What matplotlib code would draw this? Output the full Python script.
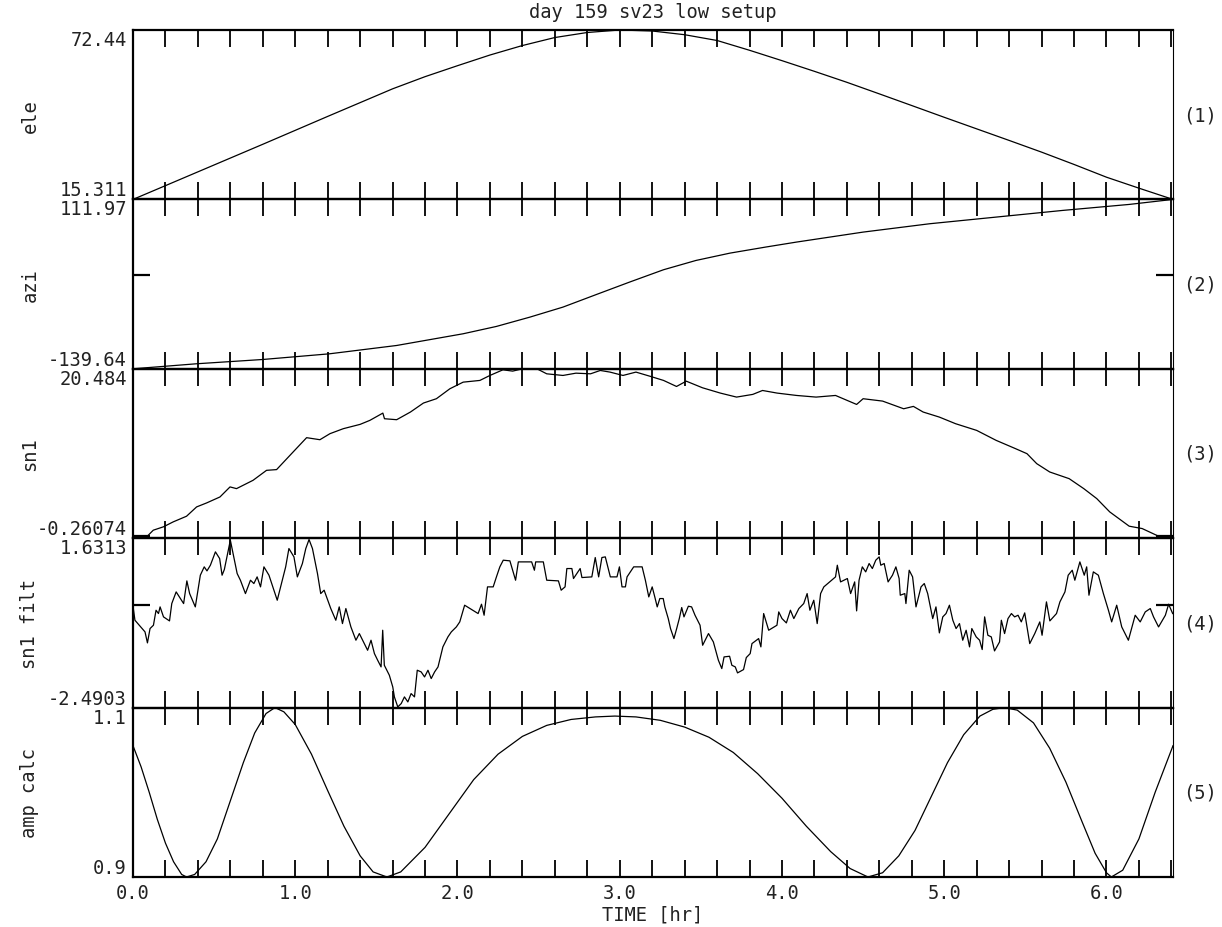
import matplotlib
matplotlib.use('Agg')
import matplotlib.pyplot as plt
from matplotlib.ticker import MultipleLocator, FormatStrFormatter

plt.rcParams['font.family'] = ['DejaVu Sans Mono']
plt.rcParams['font.size'] = 13.5
TXT = '#222222'

T_END = 6.41

# elevation
ele_t = [0.0, 0.2, 0.4, 0.6, 0.8, 1.0, 1.2, 1.4, 1.6, 1.8, 2.0, 2.2, 2.4, 2.6, 2.8, 3.0,
         3.2, 3.4, 3.6, 3.8, 4.0, 4.2, 4.4, 4.6, 4.8, 5.0, 5.2, 5.4, 5.6, 5.8, 6.0, 6.2, 6.41]
ele_v = [15.31, 19.95, 24.6, 29.25, 33.9, 38.6, 43.3, 47.95, 52.6, 56.7, 60.4, 64.0, 67.2, 69.9,
         71.6, 72.44, 72.1, 70.85, 68.9, 65.6, 62.1, 58.5, 54.8, 50.9, 46.96, 43.0, 39.1, 35.2,
         31.25, 27.1, 22.8, 19.1, 15.31]

# azimuth
azi_t = [0.0, 0.39, 0.8, 1.21, 1.625, 2.035, 2.24, 2.446, 2.65, 2.857, 3.06, 3.27, 3.47, 3.68,
         3.9, 4.09, 4.5, 4.91, 5.32, 5.73, 6.14, 6.41]
azi_v = [-139.64, -132.2, -125.8, -117.4, -105.0, -87.6, -76.7, -62.9, -48.0, -29.2, -10.9, 7.5,
         21.3, 32.2, 41.2, 48.6, 63.4, 75.8, 85.7, 95.6, 104.5, 111.97]

# sn1
sn1_t = [0.0, 0.084, 0.125, 0.187, 0.248, 0.33, 0.392, 0.454, 0.536, 0.598, 0.638, 0.74, 0.823,
         0.885, 0.987, 1.07, 1.152, 1.214, 1.296, 1.4, 1.46, 1.54, 1.55, 1.625, 1.71, 1.79, 1.87,
         1.953, 2.035, 2.138, 2.2, 2.28, 2.34, 2.4, 2.49, 2.55, 2.65, 2.73, 2.82, 2.88, 2.94, 3.02,
         3.1, 3.19, 3.27, 3.35, 3.41, 3.51, 3.62, 3.72, 3.82, 3.88, 3.97, 4.09, 4.21, 4.33, 4.46,
         4.5, 4.62, 4.75, 4.81, 4.87, 4.97, 5.07, 5.2, 5.32, 5.44, 5.51, 5.57, 5.65, 5.77, 5.86,
         5.94, 6.02, 6.14, 6.22, 6.33, 6.41]
sn1_v = [-0.1, -0.1, 0.72, 1.13, 1.74, 2.43, 3.57, 4.06, 4.79, 6.02, 5.81, 6.83, 8.05, 8.14, 10.3,
         12.05, 11.8, 12.54, 13.15, 13.68, 14.17, 15.06, 14.37, 14.25, 15.19, 16.29, 16.82, 18.04,
         18.85, 19.06, 19.67, 20.36, 20.2, 20.48, 20.48, 19.87, 19.67, 19.95, 19.87, 20.28, 20.08,
         19.67, 20.08, 19.55, 19.06, 18.32, 18.97, 18.16, 17.51, 17.02, 17.35, 17.83, 17.51, 17.22,
         17.02, 17.22, 16.12, 16.82, 16.53, 15.59, 15.88, 15.19, 14.57, 13.76, 12.94, 11.72, 10.7,
         10.09, 8.87, 7.85, 7.03, 5.81, 4.59, 2.96, 1.21, 0.92, -0.1, -0.02]

# sn1 filt
filt_t = [0.002, 0.012, 0.074, 0.089, 0.105, 0.126, 0.142, 0.157, 0.167, 0.188, 0.225, 0.239,
          0.266, 0.312, 0.332, 0.349, 0.384, 0.415, 0.439, 0.456, 0.477, 0.508, 0.534, 0.549,
          0.563, 0.600, 0.621, 0.642, 0.662, 0.693, 0.724, 0.745, 0.765, 0.786, 0.807, 0.838,
          0.889, 0.941, 0.961, 0.992, 1.013, 1.044, 1.065, 1.085, 1.106, 1.137, 1.157, 1.178,
          1.219, 1.250, 1.271, 1.291, 1.312, 1.343, 1.374, 1.395, 1.426, 1.446, 1.467, 1.488,
          1.508, 1.529, 1.539, 1.549, 1.580, 1.601, 1.611, 1.632, 1.653, 1.673, 1.694, 1.714,
          1.735, 1.752, 1.776, 1.797, 1.818, 1.838, 1.859, 1.880, 1.910, 1.941, 1.962, 1.993,
          2.014, 2.044, 2.127, 2.148, 2.164, 2.185, 2.220, 2.240, 2.261, 2.282, 2.323, 2.337,
          2.358, 2.375, 2.457, 2.474, 2.482, 2.529, 2.550, 2.622, 2.639, 2.663, 2.674, 2.705,
          2.715, 2.756, 2.767, 2.828, 2.849, 2.870, 2.890, 2.911, 2.942, 2.983, 2.998, 3.014,
          3.035, 3.045, 3.086, 3.138, 3.158, 3.179, 3.200, 3.216, 3.231, 3.247, 3.268, 3.278,
          3.299, 3.313, 3.334, 3.351, 3.367, 3.382, 3.396, 3.423, 3.443, 3.464, 3.495, 3.511,
          3.547, 3.577, 3.608, 3.629, 3.643, 3.677, 3.691, 3.712, 3.726, 3.763, 3.780, 3.804,
          3.815, 3.856, 3.870, 3.887, 3.918, 3.969, 3.980, 4.000, 4.027, 4.052, 4.073, 4.104,
          4.134, 4.155, 4.172, 4.196, 4.217, 4.238, 4.258, 4.330, 4.341, 4.361, 4.403, 4.423,
          4.448, 4.460, 4.475, 4.495, 4.516, 4.537, 4.557, 4.578, 4.599, 4.609, 4.630, 4.654,
          4.681, 4.702, 4.722, 4.729, 4.757, 4.764, 4.784, 4.805, 4.826, 4.857, 4.877, 4.898,
          4.929, 4.949, 4.970, 4.991, 5.011, 5.032, 5.053, 5.073, 5.094, 5.114, 5.135, 5.156,
          5.170, 5.197, 5.218, 5.234, 5.249, 5.269, 5.290, 5.310, 5.341, 5.352, 5.372, 5.393,
          5.414, 5.434, 5.455, 5.475, 5.496, 5.527, 5.558, 5.589, 5.603, 5.630, 5.651, 5.692,
          5.713, 5.744, 5.764, 5.789, 5.805, 5.836, 5.863, 5.878, 5.892, 5.919, 5.950, 5.981,
          6.012, 6.032, 6.063, 6.094, 6.135, 6.177, 6.208, 6.239, 6.270, 6.290, 6.321, 6.363,
          6.383, 6.408]
filt_v = [-0.08, -0.365, -0.648, -0.916, -0.567, -0.486, -0.121, -0.202, -0.040, -0.283, -0.381,
          0.041, 0.325, 0.041, 0.593, 0.284, -0.040, 0.731, 0.934, 0.836, 0.974, 1.299, 1.136,
          0.731, 0.869, 1.583, 1.177, 0.771, 0.609, 0.284, 0.609, 0.528, 0.690, 0.447, 0.934,
          0.731, 0.122, 0.934, 1.380, 1.177, 0.690, 1.015, 1.380, 1.599, 1.380, 0.771, 0.284,
          0.366, -0.080, -0.365, -0.040, -0.446, -0.080, -0.527, -0.851, -0.689, -0.933, -1.095,
          -0.851, -1.176, -1.338, -1.500, -0.608, -1.460, -1.703, -1.987, -2.230, -2.474, -2.393,
          -2.230, -2.352, -2.149, -2.230, -1.581, -1.622, -1.744, -1.581, -1.784, -1.622, -1.500,
          -1.013, -0.770, -0.648, -0.527, -0.405, 0.001, -0.202, 0.025, -0.243, 0.447, 0.447,
          0.690, 0.934, 1.096, 1.080, 0.893, 0.609, 1.055, 1.055, 0.852, 1.055, 1.055, 0.609,
          0.593, 0.366, 0.447, 0.893, 0.893, 0.650, 0.893, 0.674, 0.690, 1.161, 0.690, 1.161,
          1.177, 0.690, 0.690, 0.934, 0.447, 0.447, 0.690, 0.934, 0.934, 0.609, 0.203, 0.447,
          0.203, -0.040, 0.163, 0.163, -0.040, -0.324, -0.567, -0.811, -0.567, -0.324, -0.056,
          -0.283, -0.024, -0.040, -0.243, -0.486, -0.973, -0.689, -0.892, -1.338, -1.541, -1.257,
          -1.241, -1.460, -1.500, -1.646, -1.565, -1.273, -1.176, -0.933, -0.811, -1.013, -0.202,
          -0.608, -0.486, -0.162, -0.324, -0.430, -0.121, -0.324, -0.080, 0.041, 0.284, -0.121,
          0.122, -0.446, 0.284, 0.447, 0.690, 0.974, 0.568, 0.650, 0.284, 0.568, -0.137, 0.609,
          0.934, 0.812, 1.015, 0.893, 1.096, 1.177, 0.974, 1.015, 0.568, 0.731, 0.934, 0.650,
          0.244, 0.284, 0.041, 0.852, 0.690, -0.040, 0.447, 0.528, 0.284, -0.324, -0.040, -0.673,
          -0.283, -0.202, 0.001, -0.365, -0.567, -0.446, -0.851, -0.608, -1.013, -0.567, -0.770,
          -0.851, -1.078, -0.283, -0.730, -0.770, -1.111, -0.892, -0.365, -0.689, -0.324, -0.202,
          -0.283, -0.243, -0.405, -0.186, -0.933, -0.689, -0.405, -0.730, 0.082, -0.381, -0.202,
          0.082, 0.325, 0.731, 0.852, 0.609, 1.055, 0.731, 0.934, 0.244, 0.812, 0.731, 0.284,
          -0.121, -0.405, 0.001, -0.527, -0.851, -0.243, -0.405, -0.162, -0.080, -0.283, -0.527,
          -0.243, 0.025, -0.202]

# amp calc
amp_t = [0.0, 0.05, 0.10, 0.15, 0.20, 0.25, 0.30, 0.33, 0.38, 0.45, 0.52, 0.60, 0.68, 0.75,
         0.82, 0.875, 0.93, 1.00, 1.10, 1.20, 1.30, 1.40, 1.48, 1.565, 1.65, 1.80, 1.95, 2.10,
         2.25, 2.40, 2.55, 2.70, 2.85, 2.97, 3.10, 3.25, 3.40, 3.55, 3.70, 3.85, 4.00, 4.15,
         4.30, 4.42, 4.53, 4.62, 4.72, 4.82, 4.92, 5.02, 5.12, 5.22, 5.30, 5.37, 5.45, 5.55,
         5.65, 5.75, 5.85, 5.93, 6.00, 6.03, 6.10, 6.20, 6.30, 6.41]
amp_v = [1.055, 1.030, 1.000, 0.968, 0.940, 0.918, 0.903, 0.900, 0.903, 0.918, 0.945, 0.990,
         1.035, 1.070, 1.093, 1.100, 1.095, 1.080, 1.045, 1.002, 0.960, 0.925, 0.906, 0.900,
         0.906, 0.935, 0.975, 1.015, 1.045, 1.066, 1.079, 1.086, 1.089, 1.090, 1.089, 1.085,
         1.077, 1.065, 1.047, 1.022, 0.993, 0.960, 0.930, 0.910, 0.900, 0.905, 0.925, 0.955,
         0.995, 1.035, 1.068, 1.090, 1.098, 1.100, 1.097, 1.082, 1.052, 1.012, 0.965, 0.928,
         0.905, 0.900, 0.908, 0.945, 1.000, 1.055]

names = ['ele', 'azi', 'sn1', 'sn1 filt', 'amp calc']
lims = [(15.311, 72.44), (-139.64, 111.97), (-0.26074, 20.484), (-2.4903, 1.6313), (0.9, 1.1)]
lim_labels = [('15.311', '72.44'), ('-139.64', '111.97'), ('-0.26074', '20.484'),
              ('-2.4903', '1.6313'), ('0.9', '1.1')]
series = [(ele_t, ele_v), (azi_t, azi_v), (sn1_t, sn1_v), (filt_t, filt_v), (amp_t, amp_v)]

W, H = 1222, 928
fig = plt.figure(figsize=(W / 100, H / 100), dpi=100)
left, right, top, bottom = 133, 1173, 31, 878
ph = (bottom - top) / 5

for i in range(5):
    ax = fig.add_axes([left / W, 1 - (top + (i + 1) * ph) / H, (right - left) / W, ph / H])
    t, v = series[i]
    lo, hi = lims[i]
    ax.plot(t, v, color='black', lw=0.9)
    ax.set_xlim(0, T_END)
    ax.set_ylim(lo, hi)
    ax.patch.set_alpha(0)
    for s in ['top', 'bottom', 'left']:
        ax.spines[s].set_linewidth(1.6)
    ax.spines['right'].set_linewidth(0.8)

    ax.xaxis.set_major_locator(MultipleLocator(1.0))
    ax.xaxis.set_minor_locator(MultipleLocator(0.2))
    ax.xaxis.set_major_formatter(FormatStrFormatter('%.1f'))
    ax.tick_params(axis='x', which='both', direction='in', top=True, bottom=True,
                   length=12, width=1.3, pad=4, labelcolor=TXT,
                   labelbottom=(i == 4))
    ax.set_yticks([0] if lo < 0 < hi else [])
    ax.tick_params(axis='y', direction='in', left=True, right=True, length=12,
                   width=1.6, labelleft=False)

    ax.text(-0.006, 1.0, lim_labels[i][1], transform=ax.transAxes, ha='right', va='top',
            color=TXT)
    ax.text(-0.006, 0.0, lim_labels[i][0], transform=ax.transAxes, ha='right', va='bottom',
            color=TXT)
    ax.text(1.01, 0.5, '(%d)' % (i + 1), transform=ax.transAxes, ha='left', va='center',
            color=TXT)
    fig.text(30 / W, 1 - (top + (i + 0.5) * ph) / H, names[i], rotation=90,
             ha='center', va='center', color=TXT)

fig.text(653 / W, 1 - 12 / H, 'day 159 sv23 low setup', ha='center', va='center', color=TXT)
fig.text(653 / W, 1 - 915 / H, 'TIME [hr]', ha='center', va='center', color=TXT)

fig.savefig('out.png', dpi=100)
